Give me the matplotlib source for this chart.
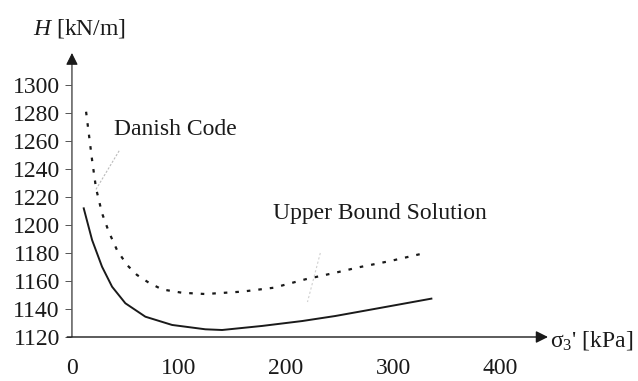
import matplotlib
matplotlib.use("Agg")
import matplotlib.pyplot as plt

plt.rcParams["font.family"] = ["Liberation Serif", "DejaVu Serif"]
plt.rcParams["mathtext.fontset"] = "custom"
plt.rcParams["mathtext.rm"] = "Liberation Serif"
plt.rcParams["mathtext.it"] = "Liberation Serif:italic"

# stress sigma_3' [kPa] vs H [kN/m]
sigma_upper = [10.9, 18.7, 28.0, 37.4, 49.8, 68.5, 93.5, 124.6, 140.2, 177.6,
               215.0, 246.0, 277.3, 308.4, 335.8]
h_upper = [1211.9, 1189.3, 1170.2, 1155.9, 1144.1, 1134.5, 1128.6, 1125.5, 1125.0, 1127.9,
           1131.4, 1135.0, 1139.3, 1143.6, 1147.4]

sigma_danish = [13.1, 15.6, 18.7, 22.4, 28.0, 34.3, 42.0, 51.4, 60.7, 71.7, 84.1,
                102.8, 124.6, 158.9, 188.5, 218.0, 247.7, 268.0, 297.5, 328.7]
h_danish = [1280.9, 1265.5, 1246.4, 1226.2, 1208.4, 1195.2, 1182.1, 1171.4, 1164.3, 1158.8, 1154.0,
            1151.6, 1150.7, 1152.4, 1155.2, 1161.2, 1166.2, 1169.8, 1174.3, 1179.8]

y_ticks = [1120, 1140, 1160, 1180, 1200, 1220, 1240, 1260, 1280, 1300]
x_ticks = [0, 100, 200, 300, 400]

ink = "#1a1a1a"
W, H = 638, 381

fig = plt.figure(figsize=(W / 100, H / 100), dpi=100)
# axes placed in pixel terms: y-axis at x=71, x-axis at y=337
x0, x1 = 71, 548
y0, y1 = 337, 53
ax = fig.add_axes([x0 / W, (H - y0) / H, (x1 - x0) / W, (y0 - y1) / H])
ax.set_xlim(-1, (x1 - x0) / 107 * 100 - 1)
ax.set_ylim(1120, 1120 + (y0 - y1) / 1.4)

ax.plot(sigma_upper, h_upper, color=ink, lw=1.4)
ax.plot(sigma_danish, h_danish, color=ink, lw=1.6, linestyle=(0, (1.6, 3.6)))

for s in ["top", "right", "left", "bottom"]:
    ax.spines[s].set_visible(False)

# axis arrows
ax.annotate("", xy=(1, 0), xytext=(-0.008, 0), xycoords="axes fraction",
            arrowprops=dict(arrowstyle="-|>", color=ink, lw=1.0, mutation_scale=18,
                            shrinkA=0, shrinkB=0))
ax.annotate("", xy=(0.002, 1), xytext=(0.002, 0), xycoords="axes fraction",
            arrowprops=dict(arrowstyle="-|>", color=ink, lw=0.8, mutation_scale=18,
                            shrinkA=0, shrinkB=0))

ax.set_yticks(y_ticks)
ax.set_yticklabels([str(v) for v in y_ticks], fontsize=17, color=ink)
ax.tick_params(axis="y", direction="out", length=4, width=0.7, color="#555555", pad=4)
ax.set_xticks(x_ticks)
ax.set_xticklabels([str(v) for v in x_ticks], fontsize=17, color=ink)
ax.tick_params(axis="x", length=0, pad=15)

# curve labels with faint leader lines
ax.text(39, 1268, "Danish Code", fontsize=17, color=ink, va="center", ha="left")
ax.plot([44, 22], [1253, 1225], color="#bbbbbb", lw=0.8, linestyle=(0, (2, 1.5)))
ax.text(188, 1208, "Upper Bound Solution", fontsize=17, color=ink, va="center", ha="left")
ax.plot([232, 220], [1180, 1145], color="#d0d0d0", lw=0.8, linestyle=(0, (2, 2)))

# axis titles
fig.text(33 / W, (H - 28) / H, "$H$ [kN/m]", fontsize=17, color=ink, va="center", ha="left")
fig.text(550 / W, (H - 340) / H, "σ$_3$' [kPa]", fontsize=17, color=ink, va="center", ha="left")

fig.savefig("out.png", dpi=100)
